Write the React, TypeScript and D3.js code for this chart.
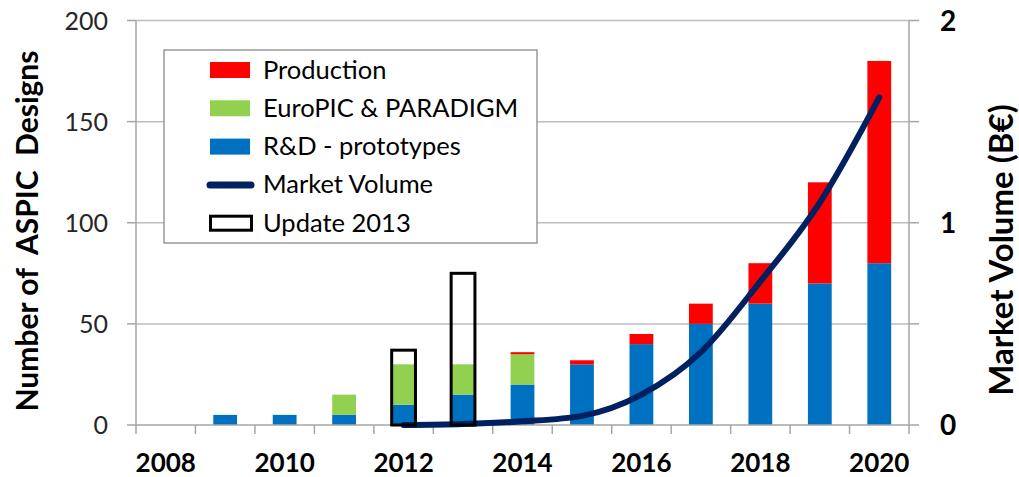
import React from "react";
import * as d3 from "d3";

const years = ["2008","2009","2010","2011","2012","2013","2014","2015","2016","2017","2018","2019","2020"];
const rdPrototypes = [0, 5, 5, 5, 10, 15, 20, 30, 40, 50, 60, 70, 80];
const europicParadigm = [0, 0, 0, 10, 20, 15, 15, 0, 0, 0, 0, 0, 0];
const production = [0, 0, 0, 0, 0, 0, 1, 2, 5, 10, 20, 50, 100];
const updateYears = ["2012", "2013"];
const updateTotals = [37, 75];
const marketYears = ["2012","2013","2014","2015","2016","2017","2018","2019","2020"];
const marketVolume = [0, 0.005, 0.018, 0.045, 0.15, 0.36, 0.71, 1.1, 1.62];
const leftTicks = [0, 50, 100, 150, 200];
const rightTicks = [0, 0.5, 1, 1.5, 2];
const rightTickLabels = [0, 1, 2];
const xTickLabels = ["2008","2010","2012","2014","2016","2018","2020"];

const seriesNames = ["R&D - prototypes", "EuroPIC & PARADIGM", "Production"];
const seriesColors = ["#0070C0", "#92D050", "#FF0000"];

const W = 1019, H = 477;
const m = { left: 136, right: 909, top: 20.5, bottom: 425 };
const FONT = "Lato, 'Open Sans', sans-serif";

export default function App() {
  const x = d3.scaleBand<string>().domain(years).range([m.left, m.right]).paddingInner(0.6).paddingOuter(0.3);
  const yL = d3.scaleLinear().domain([0, 200]).range([m.bottom, m.top]);
  const yR = d3.scaleLinear().domain([0, 2]).range([m.bottom, m.top]);
  const bw = x.bandwidth();
  const cx = (yr: string) => (x(yr) as number) + bw / 2;

  const table = years.map((yr, i) => ({ yr, rd: rdPrototypes[i], eu: europicParadigm[i], pr: production[i] }));
  const stack = d3.stack<any>().keys(["rd", "eu", "pr"])(table);

  const line = d3.line<number>()
    .x((_, i) => cx(marketYears[i]))
    .y((d) => yR(d))
    .curve(d3.curveMonotoneX);

  const step = x.step();
  const boundaries = d3.range(years.length + 1).map((i) => m.left + i * step);

  const legendItems = [
    { label: "Production", type: "rect", color: seriesColors[2] },
    { label: "EuroPIC & PARADIGM", type: "rect", color: seriesColors[1] },
    { label: "R&D - prototypes", type: "rect", color: seriesColors[0] },
    { label: "Market Volume", type: "line", color: "#002060" },
    { label: "Update 2013", type: "box", color: "#000" },
  ];

  return (
    <div style={{ position: "absolute", left: 0, top: 0 }}>
      <svg width={W} height={H} style={{ display: "block", background: "#fff" }} fontFamily={FONT}>
        {/* gridlines */}
        {leftTicks.filter((t) => t > 0).map((t) => (
          <line key={"g" + t} x1={m.left} x2={m.right} y1={yL(t)} y2={yL(t)} stroke="#BDBDBD" strokeWidth={1.5} />
        ))}
        {/* axes */}
        <line x1={m.left} x2={m.left} y1={m.top} y2={m.bottom} stroke="#A6A6A6" strokeWidth={1.5} />
        <line x1={m.right} x2={m.right} y1={m.top} y2={m.bottom} stroke="#A6A6A6" strokeWidth={1.5} />
        {leftTicks.map((t) => (
          <g key={"lt" + t}>
            <line x1={m.left - 9} x2={m.left} y1={yL(t)} y2={yL(t)} stroke="#A6A6A6" strokeWidth={1.5} />
            <text x={108} y={yL(t) + 9} textAnchor="end" fontSize={25} fill="#262626">{t}</text>
          </g>
        ))}
        {rightTicks.map((t) => (
          <line key={"rt" + t} x1={m.right} x2={m.right + 10} y1={yR(t)} y2={yR(t)} stroke="#A6A6A6" strokeWidth={1.5} />
        ))}
        {rightTickLabels.map((t) => (
          <text key={"rl" + t} x={940} y={yR(t) + 10} fontSize={28} fontWeight="bold" fill="#000">{t}</text>
        ))}
        {/* bars */}
        {stack.map((s, si) => (
          <g key={"s" + si} fill={seriesColors[si]}>
            {s.map((d, i) => (d[1] - d[0] > 0 ? (
              <rect key={i} x={x(years[i])} width={bw} y={yL(d[1])} height={yL(d[0]) - yL(d[1])} />
            ) : null))}
          </g>
        ))}
        {/* x axis */}
        <line x1={m.left} x2={m.right} y1={m.bottom} y2={m.bottom} stroke="#A6A6A6" strokeWidth={1.5} />
        {boundaries.map((b, i) => (
          <line key={"xt" + i} x1={b} x2={b} y1={m.bottom} y2={m.bottom + 9} stroke="#A6A6A6" strokeWidth={1.5} />
        ))}
        {xTickLabels.map((yr) => (
          <text key={"xl" + yr} x={cx(yr)} y={471.5} textAnchor="middle" fontSize={26} fontWeight="bold" fill="#000">{yr}</text>
        ))}
        {/* market volume */}
        <path d={line(marketVolume) || ""} fill="none" stroke="#002060" strokeWidth={6} strokeLinecap="round" />
        {/* update boxes */}
        {updateYears.map((yr, i) => (
          <rect key={"u" + yr} x={x(yr)} width={bw} y={yL(updateTotals[i])} height={yL(0) - yL(updateTotals[i])}
            fill="none" stroke="#000" strokeWidth={3} />
        ))}
        {/* legend */}
        <rect x={164} y={50} width={373} height={193} fill="#fff" stroke="#808080" strokeWidth={1.2} />
        {legendItems.map((it, i) => {
          const cy = 70 + i * 38.3;
          return (
            <g key={"lg" + i}>
              {it.type === "rect" && <rect x={210} y={cy - 8} width={40} height={16} fill={it.color} />}
              {it.type === "line" && <line x1={210} x2={251} y1={cy} y2={cy} stroke={it.color} strokeWidth={7} strokeLinecap="round" />}
              {it.type === "box" && <rect x={210.5} y={cy - 7} width={41} height={14} fill="none" stroke={it.color} strokeWidth={3} />}
              <text x={263} y={cy + 8.5} fontSize={25.5} fill="#000">{it.label}</text>
            </g>
          );
        })}
        {/* axis titles */}
        <text transform={`translate(38,231) rotate(-90)`} textAnchor="middle" fontSize={30} fontWeight="bold" fill="#000" style={{ whiteSpace: "pre" }}>
          {"Number of  ASPIC  Designs"}
        </text>
        <text transform={`translate(1013,250) rotate(-90)`} textAnchor="middle" fontSize={33} fontWeight="bold" fill="#000">
          Market Volume (B€)
        </text>
      </svg>
    </div>
  );
}
